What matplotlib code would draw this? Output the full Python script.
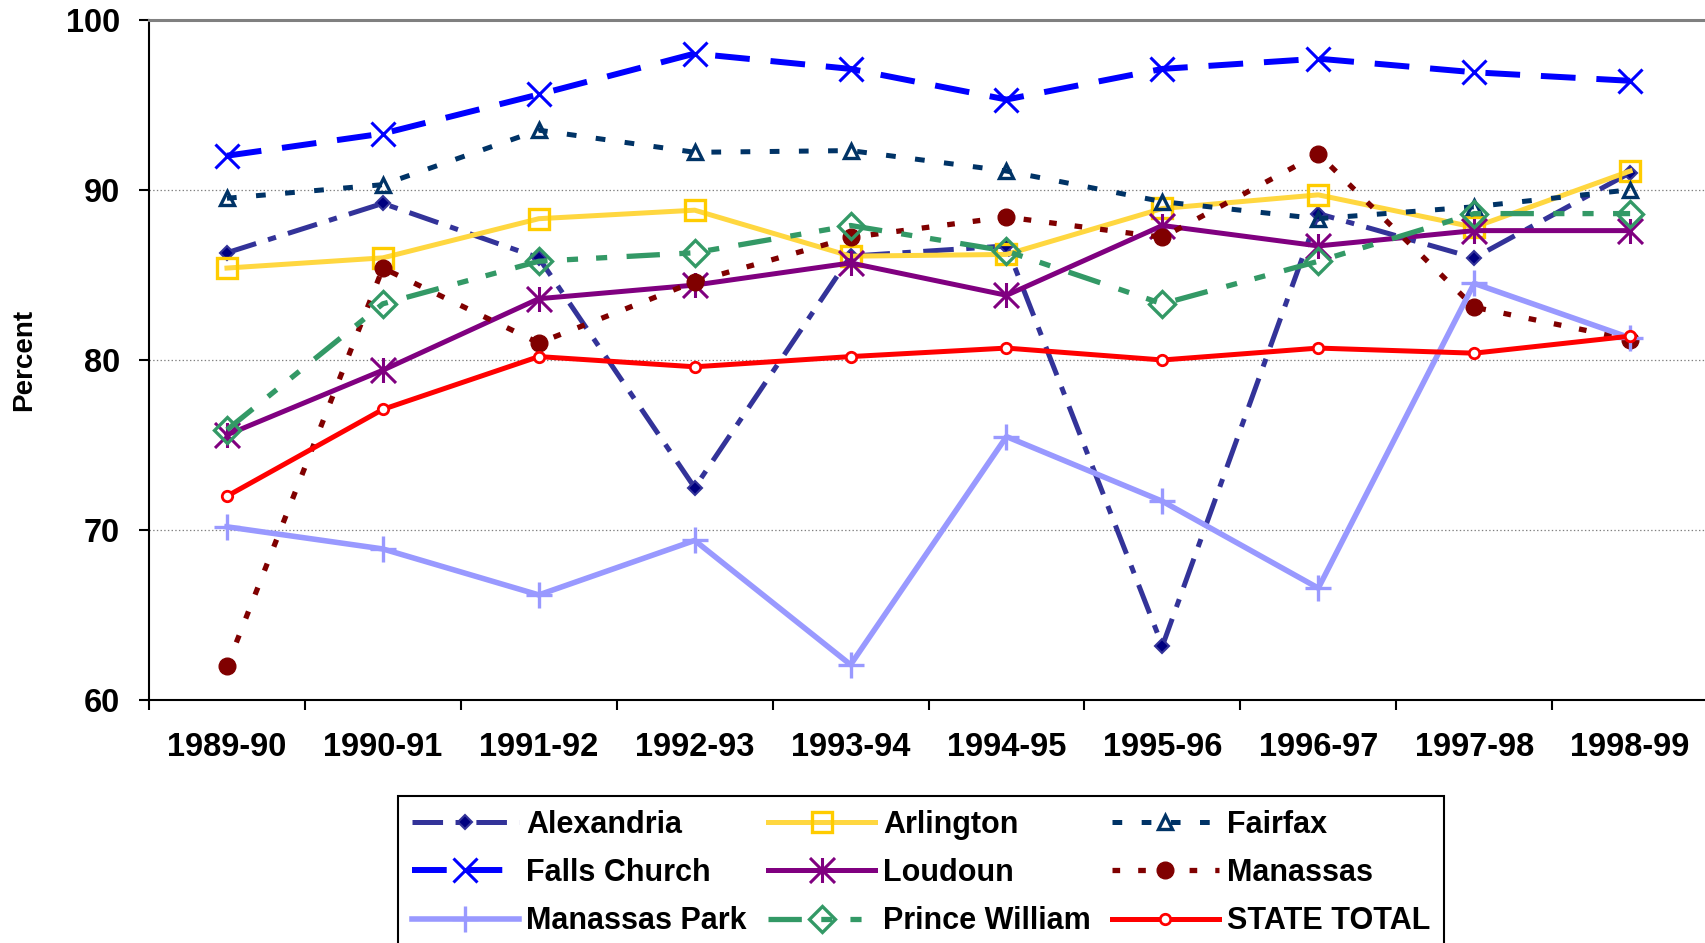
import numpy as np
import matplotlib.pyplot as plt
from matplotlib.path import Path

plt.rcParams['font.family'] = ['Liberation Sans', 'DejaVu Sans']
plt.rcParams['font.weight'] = 'bold'
plt.rcParams['lines.scale_dashes'] = False

# data
years = ["1989-90", "1990-91", "1991-92", "1992-93", "1993-94",
         "1994-95", "1995-96", "1996-97", "1997-98", "1998-99"]
alexandria = [86.3, 89.2, 86.0, 72.5, 86.1, 86.7, 63.2, 88.6, 86.0, 91.0]
arlington = [85.4, 86.0, 88.3, 88.8, 86.1, 86.2, 88.9, 89.7, 87.8, 91.1]
fairfax = [89.5, 90.3, 93.5, 92.2, 92.3, 91.1, 89.3, 88.3, 89.0, 90.0]
falls_church = [92.0, 93.3, 95.6, 98.0, 97.1, 95.3, 97.1, 97.7, 96.9, 96.4]
loudoun = [75.6, 79.4, 83.6, 84.4, 85.7, 83.8, 87.9, 86.7, 87.6, 87.6]
manassas = [62.0, 85.4, 81.0, 84.6, 87.2, 88.4, 87.2, 92.1, 83.1, 81.2]
manassas_park = [70.2, 68.9, 66.2, 69.4, 62.1, 75.5, 71.7, 66.6, 84.5, 81.3]
prince_william = [75.9, 83.3, 85.8, 86.3, 87.9, 86.4, 83.3, 85.8, 88.6, 88.6]
state_total = [72.0, 77.1, 80.2, 79.6, 80.2, 80.7, 80.0, 80.7, 80.4, 81.4]

yticks = [60, 70, 80, 90, 100]

fig = plt.figure(figsize=(17.05, 9.43), dpi=100)
ax = fig.add_axes([0.0874, 0.2572, 0.9144, 0.7221])
x = np.arange(len(years))

# excel style asterisk: X plus a vertical bar
star = Path([(0, -1), (0, 1), (-1, -1), (1, 1), (-1, 1), (1, -1)],
            [Path.MOVETO, Path.LINETO, Path.MOVETO, Path.LINETO, Path.MOVETO, Path.LINETO])

ax.plot(x, alexandria, color='#333399', lw=3.6, ls=(0, (22, 9, 6, 9)), marker='D', ms=7,
        mfc='#000080', mec='#333399', mew=1.5, label='Alexandria')
ax.plot(x, arlington, color='#FFD740', lw=3.6, marker='s', ms=15, mfc='none',
        mec='#FFCC00', mew=2.4, label='Arlington')
ax.plot(x, fairfax, color='#003366', lw=3.6, ls=(0, (7, 14)), marker='^', ms=10,
        mfc='none', mec='#003366', mew=2.4, label='Fairfax')
ax.plot(x, falls_church, color='#0000FF', lw=4.3, ls=(0, (25, 15)), marker='x', ms=17,
        mew=2.2, label='Falls Church')
ax.plot(x, loudoun, color='#800080', lw=3.6, marker=star, ms=18, mfc='none', mew=2.2,
        label='Loudoun')
ax.plot(x, manassas, color='#800000', lw=3.8, ls=(0, (5.5, 13)), marker='o', ms=12,
        label='Manassas')
ax.plot(x, manassas_park, color='#9999FF', lw=4, marker='+', ms=19, mew=2.4,
        label='Manassas Park')
ax.plot(x, prince_william, color='#339966', lw=3.8, ls=(0, (24, 14, 8, 13, 8, 14)),
        marker='D', ms=13, mfc='none', mew=2.4, label='Prince William')
ax.plot(x, state_total, color='#FF0000', lw=3.6, marker='o', ms=7.5, mfc='white', mew=2,
        label='STATE TOTAL')

ax.set_ylim(60, 100)
ax.set_xlim(-0.5, len(years) - 0.5)
ax.set_yticks(yticks)
ax.set_xticks(np.arange(-0.5, len(years), 1))
ax.set_xticklabels([])
ax.set_xticks(x, minor=True)
ax.set_xticklabels(years, minor=True)
ax.tick_params(axis='y', length=7, width=1.5, pad=14, labelsize=23.5)
ax.tick_params(axis='x', which='major', length=7, width=1.5)
ax.tick_params(axis='x', which='minor', length=0, pad=23, labelsize=23.5)

ax.yaxis.grid(True, linestyle=':', color='#808080', lw=0.9)
ax.set_axisbelow(True)
ax.spines['right'].set_visible(False)
ax.spines['top'].set_color('#808080')
ax.spines['top'].set_linewidth(2.2)
ax.spines['left'].set_linewidth(1.5)
ax.spines['bottom'].set_linewidth(1.5)

fig.text(24 / 1705, 1 - 360 / 943, 'Percent', rotation=90, ha='center', va='center',
         fontsize=20, fontweight='bold')

h, l = ax.get_legend_handles_labels()
order = [0, 3, 6, 1, 4, 7, 2, 5, 8]
leg = fig.legend([h[i] for i in order], [l[i] for i in order], ncol=3, loc='upper left',
                 bbox_to_anchor=(398 / 1705, 1 - 796 / 943), fontsize=22, fancybox=False,
                 edgecolor='black', framealpha=1, handlelength=3.5, handletextpad=0.25,
                 columnspacing=0.7, labelspacing=0.6, borderpad=0.45, borderaxespad=0)
leg.get_frame().set_linewidth(1.5)

fig.savefig('out.png', dpi=100)
